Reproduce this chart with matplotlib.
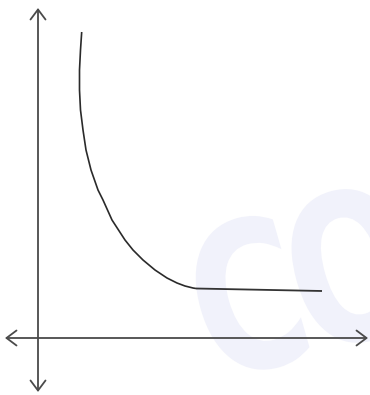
import matplotlib
matplotlib.use("Agg")
import matplotlib.pyplot as plt
from matplotlib.textpath import TextPath
from matplotlib.patches import PathPatch
from matplotlib.font_manager import FontProperties
from matplotlib.transforms import Affine2D

# Curve values (x, y), origin at the axes crossing
curve_x = [43.7, 42.5, 41.5, 41.5, 42.5, 45.0, 48.0, 53.0, 60.0, 65.0, 74.0, 87.0, 95.0, 105.0, 117.0, 129.0, 139.0, 147.0, 155.0, 158.0]
curve_y = [306.0, 288.0, 268.0, 248.0, 228.0, 208.0, 188.0, 168.0, 148.0, 138.0, 118.0, 98.0, 88.0, 78.0, 68.0, 60.0, 55.0, 52.0, 50.0, 49.5]
flat_x = [158.0, 284.0]
flat_y = [49.5, 47.0]

watermark = ["C", "O"]

fig = plt.figure(figsize=(3.7, 3.95), dpi=100)
ax = fig.add_axes([0, 0, 1, 1])
ax.set_xlim(-38, 332)
ax.set_ylim(-57, 338)
ax.axis("off")

# faint, condensed, tilted watermark drawn in pixel space
fp = FontProperties(family="DejaVu Sans", weight="bold")
for i, ch in enumerate(watermark):
    tp = TextPath((0, 0), ch, size=205, prop=fp)
    tr = (Affine2D().scale(0.74, 1.0).translate(i * 100, 0)
          .rotate_deg(16).translate(214, 12))
    ax.add_patch(PathPatch(tp, transform=tr, facecolor="#f1f2fb",
                           edgecolor="none", zorder=0))

axis_color = "#4a4a4a"
arrow_style = "<->,head_length=0.6,head_width=0.45"
ax.annotate("", xy=(330, 0), xytext=(-33, 0),
            arrowprops=dict(arrowstyle=arrow_style, color=axis_color, lw=1.3,
                            mutation_scale=12, shrinkA=0, shrinkB=0), zorder=2)
ax.annotate("", xy=(0, 330), xytext=(0, -54),
            arrowprops=dict(arrowstyle=arrow_style, color=axis_color, lw=1.3,
                            mutation_scale=12, shrinkA=0, shrinkB=0), zorder=2)

ax.plot(curve_x, curve_y, color="#2a2a2a", lw=1.2, solid_capstyle="butt",
        solid_joinstyle="round", zorder=3)
ax.plot(flat_x, flat_y, color="#333333", lw=1.3, solid_capstyle="butt", zorder=3)

fig.savefig("out.png", dpi=100)
